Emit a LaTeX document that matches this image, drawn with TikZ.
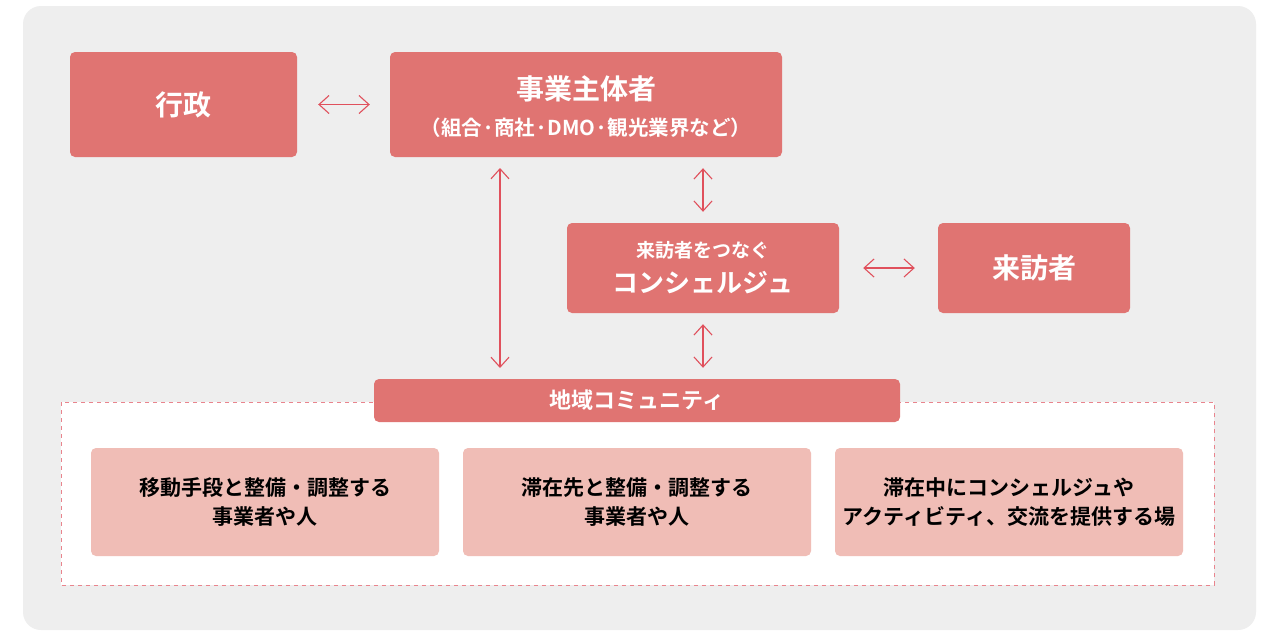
\documentclass[tikz,border=0pt]{standalone}
\usepackage{fontspec}
\setmainfont{Noto Sans CJK JP}[BoldFont={* Bold}]
\newfontfamily\jpb{Noto Sans CJK JP Bold}
\usetikzlibrary{arrows.meta}
\definecolor{bgc}{HTML}{EEEEEE}
\definecolor{mainred}{HTML}{E07472}
\definecolor{lightred}{HTML}{F0BDB6}
\definecolor{arrowc}{HTML}{E0505C}
\tikzset{
  x=1pt,y=-1pt,
  redbox/.style={fill=mainred,rounded corners=5pt,inner sep=0pt,text=white,align=center,font=\jpb},
  pinkbox/.style={fill=lightred,rounded corners=5pt,inner sep=0pt,text=black,align=center,font=\jpb\fontsize{21}{29}\selectfont},
  dbl/.style={arrowc,line width=1.1pt,{Straight Barb[length=10pt,width=18pt]}-{Straight Barb[length=10pt,width=18pt]}}
}
\begin{document}
\begin{tikzpicture}
\useasboundingbox (0,0) rectangle (1265,630);
\fill[white] (0,0) rectangle (1265,630);
\fill[bgc,rounded corners=18pt] (23,6) rectangle (1256,630);
% dashed area
\draw[fill=white,draw=arrowc!70,dashed,dash pattern=on 4pt off 4pt,line width=0.9pt] (61,402) rectangle (1214,585);
% top boxes
\node[redbox,minimum width=227pt,minimum height=105pt,font=\jpb\fontsize{28}{32}\selectfont] (gyosei) at (183.5,104.5) {行政};
\node[redbox,minimum width=392pt,minimum height=105pt] (jigyo) at (586,104.5) {};
\node[text=white,font=\jpb\fontsize{28}{32}\selectfont] (jigyot) at (586,89) {事業主体者};
\node[text=white,font=\jpb\fontsize{20.5}{24}\selectfont] (jigyos) at (586,128) {（組合·商社·DMO·観光業界など）};
\node[redbox,minimum width=272pt,minimum height=90pt] (conc) at (703,268) {};
\node[text=white,font=\jpb\fontsize{19}{22}\selectfont] (conct) at (703,250) {来訪者をつなぐ};
\node[text=white,font=\jpb\fontsize{26}{30}\selectfont] (concs) at (703,283) {コンシェルジュ};
\node[redbox,minimum width=192pt,minimum height=90pt,font=\jpb\fontsize{28}{32}\selectfont] (raiho) at (1034,268) {来訪者};
\node[redbox,minimum width=526pt,minimum height=43pt,font=\jpb\fontsize{22}{26}\selectfont] (chiiki) at (637,400.5) {地域コミュニティ};
% lower boxes
\node[pinkbox,minimum width=348pt,minimum height=108pt] (b1) at (265,502) {移動手段と整備・調整する\\事業者や人};
\node[pinkbox,minimum width=348pt,minimum height=108pt] (b2) at (637,502) {滞在先と整備・調整する\\事業者や人};
\node[pinkbox,minimum width=348pt,minimum height=108pt] (b3) at (1009,502) {滞在中にコンシェルジュや\\アクティビティ、交流を提供する場};
% arrows
\draw[dbl] ([xshift=21pt]gyosei.east) -- ([xshift=-20pt]jigyo.west);
\draw[dbl] ([xshift=24pt]conc.east) -- ([xshift=-23pt]raiho.west);
\draw[dbl] ([yshift=-11pt]jigyo.south -| conc.north) -- ([yshift=11pt]conc.north);
\draw[dbl] ([yshift=-11pt]conc.south) -- ([yshift=11pt]chiiki.north -| conc.south);
\coordinate (ltop) at (500,168);
\coordinate (lbot) at (500,368);
\draw[dbl] (ltop) -- (lbot);
\end{tikzpicture}
\end{document}
